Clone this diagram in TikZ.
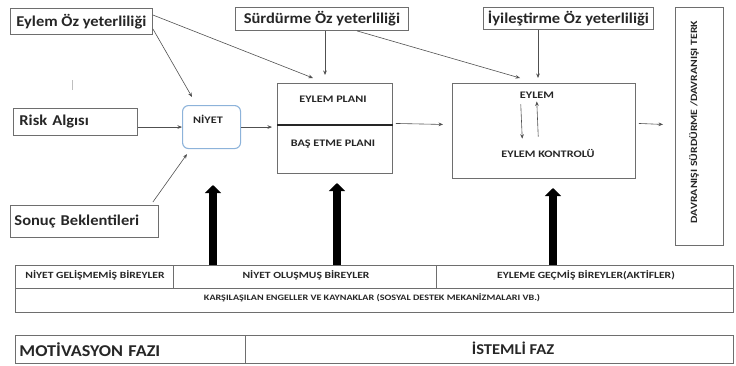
\documentclass[tikz,border=0pt]{standalone}
\usepackage{fontspec}
\setmainfont{Carlito}[FakeStretch=1.1]
\newfontfamily\capf{Carlito}[FakeStretch=1.22]
\usetikzlibrary{arrows.meta,calc}
\definecolor{edge}{HTML}{6E6E6E}
\definecolor{lin}{HTML}{505050}
\definecolor{ink}{HTML}{262626}
\definecolor{niyetblue}{HTML}{8DB3DA}
\tikzset{
  box/.style={draw=edge, line width=0.9pt, inner sep=0pt, anchor=north west},
  big/.style={text=ink, font=\bfseries\fontsize{15}{17}\selectfont, inner sep=0pt},
  lbl/.style={text=ink, font=\capf\bfseries\fontsize{10}{12}\selectfont, inner sep=0pt},
  tiny/.style={text=ink, font=\capf\bfseries\fontsize{9.5}{11}\selectfont, inner sep=0pt},
  conn/.style={draw=lin, line width=0.6pt, -{Stealth[length=4.5pt,width=3.6pt]}},
  fat/.style={draw=black, line width=8.5pt, -{Triangle[length=8pt,width=16pt]}}
}
\begin{document}
\begin{tikzpicture}[x=1pt,y=-1pt]
\useasboundingbox (0,0) rectangle (736,365);
% top boxes
\node[box, minimum width=142pt, minimum height=26pt, big] (eoz) at (10,8) {Eylem Öz yeterliliği};
\node[box, minimum width=173pt, minimum height=23pt, big] (soz) at (235,7) {Sürdürme Öz yeterliliği};
\node[box, minimum width=170pt, minimum height=22pt, big] (ioz) at (483,7) {İyileştirme Öz yeterliliği};
\node[box, minimum width=48pt, minimum height=238pt] (davr) at (675,7) {};
\node[lbl, font=\capf\bfseries\fontsize{9.6}{11}\selectfont, rotate=90] (davrt) at (694,122) {DAVRANIŞI SÜRDÜRME /DAVRANIŞI TERK};
% left boxes
\node[box, minimum width=124pt, minimum height=27pt, big, text width=112pt, align=left] (risk) at (13,108) {Risk Algısı};
\node[box, minimum width=148pt, minimum height=32pt, big, text width=140pt, align=left] (sonuc) at (10,205) {Sonuç Beklentileri};
\draw[draw=lightgray, line width=0.6pt] (72,80) -- (72,90);
% niyet
\node[box, draw=niyetblue, line width=1.1pt, rounded corners=6pt, minimum width=58pt, minimum height=43pt] (niyet) at (182,105) {};
\node[lbl] (niyett) at (208,119) {NİYET};
% plan
\node[box, minimum width=115pt, minimum height=90pt] (plan) at (277,83) {};
\draw[line width=1.4pt, draw=ink] (plan.west |- 0,125) -- (plan.east |- 0,125);
\node[lbl] (plant) at (333,99) {EYLEM PLANI};
\node[lbl] (bast) at (333,144) {BAŞ ETME PLANI};
% eylem
\node[box, minimum width=183pt, minimum height=95pt] (eylem) at (452,83) {};
\node[lbl] (eylemt) at (537,95) {EYLEM};
\node[lbl] (kontrol) at (548,153) {EYLEM KONTROLÜ};
% connectors
\draw[conn] ($(eoz.south east)+(0,-6)$) -- ($(niyet.north west)+(10,-8)$);
\draw[conn] ($(eoz.north east)+(0,7)$) -- ($(plan.north west)+(36,-5)$);
\draw[conn] ($(soz.south west)+(90,0)$) -- ($(plan.north west)+(48,-8)$);
\draw[conn] ($(soz.south west)+(122,0)$) -- ($(eylem.north west)+(68,-5)$);
\draw[conn] ($(ioz.south west)+(55,0)$) -- ($(eylem.north west)+(86,-5)$);
\draw[conn] (risk.east |- niyet.west) -- (niyet.west);
\draw[conn] ($(sonuc.north east)+(-6,-3)$) -- ($(niyet.south west)+(5,5)$);
\draw[conn] (niyet.east) -- ($(niyet.east -| plan.west)+(-5,0)$);
\draw[conn] ($(plan.east)+(3,-5)$) -- ($(eylem.west)+(-9,-6.5)$);
\draw[conn] ($(eylem.east)+(3,-7.5)$) -- ($(davr.west)+(-12,-2)$);
\draw[conn] ($(eylemt.south west)+(1,6)$) -- ($(kontrol.north west)+(21,-10)$);
\draw[conn] ($(kontrol.north west)+(37,-12)$) -- ($(eylemt.south west)+(17,3)$);
% table
\node[box, minimum width=158pt, minimum height=23pt] (c1) at (15,265) {};
\node[box, minimum width=263pt, minimum height=23pt] (c2) at (173,265) {};
\node[box, minimum width=297pt, minimum height=23pt] (c3) at (436,265) {};
\node[box, minimum width=718pt, minimum height=24pt] (r2) at (15,288) {};
\node[tiny] (c1t) at (95,275) {NİYET GELİŞMEMİŞ BİREYLER};
\node[tiny] (c2t) at (306,275) {NİYET OLUŞMUŞ BİREYLER};
\node[tiny] (c3t) at (586,275) {EYLEME GEÇMİŞ BİREYLER(AKTİFLER)};
\node[tiny, font=\capf\bfseries\fontsize{8.3}{10}\selectfont] (r2t) at (372,298) {KARŞILAŞILAN ENGELLER VE KAYNAKLAR (SOSYAL DESTEK MEKANİZMALARI VB.)};
% thick arrows
\draw[fat] ($(c2.north west)+(40,0)$) -- ($(c2.north west)+(40,-80)$);
\draw[fat] ($(c2.north west)+(164,0)$) -- ($(c2.north west)+(164,-82)$);
\draw[fat] ($(c3.north west)+(117,0)$) -- ($(c3.north west)+(117,-77)$);
% bottom phases
\node[box, minimum width=230pt, minimum height=28pt, big, font=\bfseries\fontsize{16.5}{18}\selectfont, text width=222pt, align=left] (mot) at (15,335) {MOTİVASYON FAZI};
\node[box, minimum width=488pt, minimum height=28pt] (ist) at (245,335) {};
\node[big] (istt) at (513,348) {İSTEMLİ FAZ};
\end{tikzpicture}
\end{document}
